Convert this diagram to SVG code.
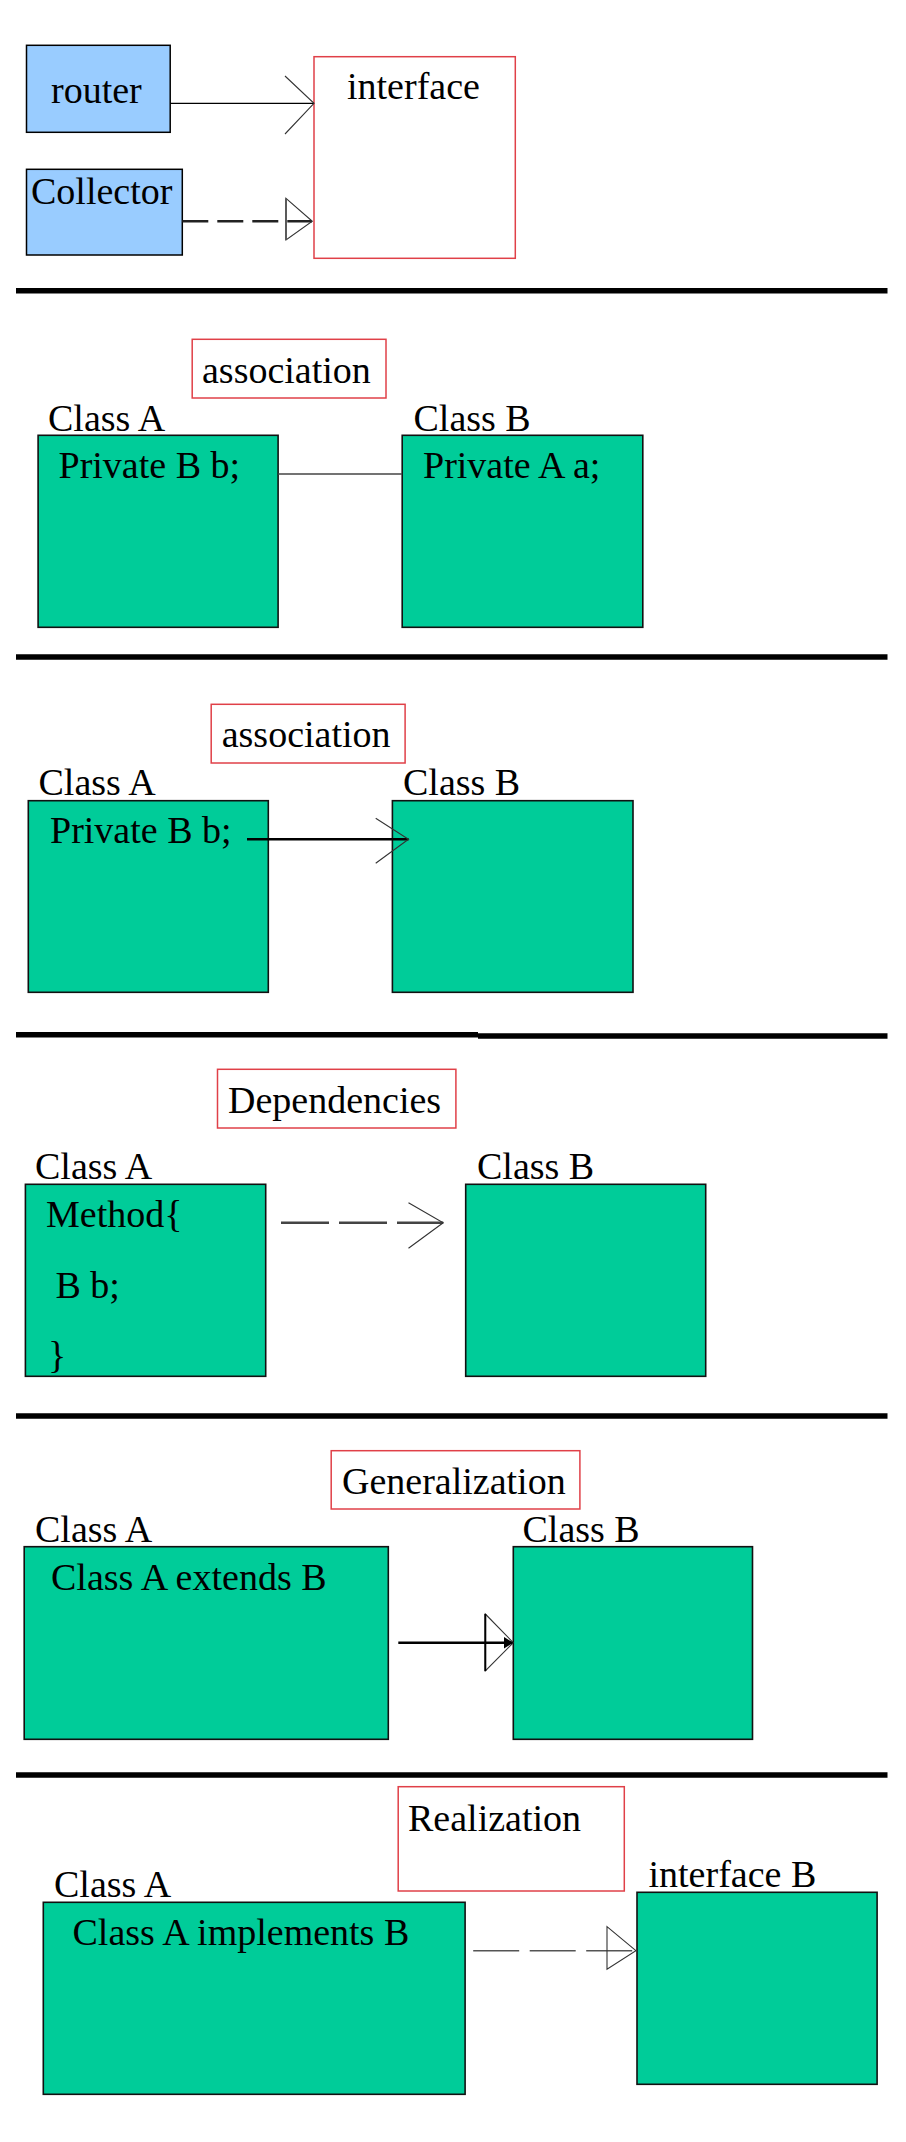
<svg xmlns="http://www.w3.org/2000/svg" width="906" height="2142" viewBox="0 0 906 2142">
<style>
text{font-family:"Liberation Serif","Times New Roman",serif;font-size:38px;fill:#000}
.blue{fill:#99CCFF;stroke:#000;stroke-width:1.5}
.green{fill:#00CC99;stroke:#111;stroke-width:1.6}
.red{fill:#fff;stroke:#E04048;stroke-width:1.5}
.sep{stroke:#000;stroke-width:5.5}
.head{fill:none;stroke:#333;stroke-width:1.1}
</style>
<rect width="906" height="2142" fill="#fff"/>
<g id="separators">
<line class="sep" x1="16" y1="290.7" x2="887.5" y2="290.7"/>
<line class="sep" x1="16" y1="657" x2="887.5" y2="657"/>
<line class="sep" x1="16" y1="1034.8" x2="478" y2="1034.8"/>
<line class="sep" x1="478" y1="1036" x2="887.5" y2="1036"/>
<line class="sep" x1="16" y1="1416" x2="887.5" y2="1416"/>
<line class="sep" x1="16" y1="1775" x2="887.5" y2="1775"/>
</g>
<g id="router"><rect class="blue" x="26.5" y="45.3" width="143.7" height="87"/><text x="51" y="103">router</text></g>
<g id="collector"><rect class="blue" x="26.5" y="169.3" width="155.8" height="85.7"/><text x="31" y="204">Collector</text></g>
<g id="interface"><rect class="red" x="314" y="56.7" width="201.3" height="201.6"/><text x="347" y="99">interface</text></g>
<g id="assoc1-label"><rect class="red" x="192.2" y="339.3" width="193.8" height="58.7"/><text x="202" y="382.7">association</text></g>
<g id="assoc1-classA"><text x="48" y="431">Class A</text><rect class="green" x="38.1" y="435.3" width="240" height="192"/><text x="58.5" y="478.3">Private B b;</text></g>
<g id="assoc1-classB"><text x="413.5" y="431">Class B</text><rect class="green" x="402.2" y="435.3" width="240.6" height="192"/><text x="423" y="478.3">Private A a;</text></g>
<g id="assoc2-label"><rect class="red" x="211.2" y="704.3" width="193.9" height="58.7"/><text x="221.7" y="746.7">association</text></g>
<g id="assoc2-classA"><text x="38.5" y="795">Class A</text><rect class="green" x="28.3" y="800.7" width="240" height="191.6"/><text x="50" y="842.7">Private B b;</text></g>
<g id="assoc2-classB"><text x="403" y="795">Class B</text><rect class="green" x="392.4" y="800.7" width="240.6" height="191.6"/></g>
<g id="dep-label"><rect class="red" x="217.5" y="1069.3" width="238.4" height="58.7"/><text x="228" y="1112.7">Dependencies</text></g>
<g id="dep-classA"><text x="35" y="1179">Class A</text><rect class="green" x="25.4" y="1184.3" width="240.3" height="192"/><text x="46" y="1227.3">Method{</text><text x="55.5" y="1298">B b;</text><text x="48" y="1368">}</text></g>
<g id="dep-classB"><text x="477" y="1179">Class B</text><rect class="green" x="465.7" y="1184.3" width="240" height="192"/></g>
<g id="gen-label"><rect class="red" x="331.2" y="1450.7" width="248.7" height="58.3"/><text x="342" y="1494">Generalization</text></g>
<g id="gen-classA"><text x="35" y="1542.3">Class A</text><rect class="green" x="24.2" y="1546.7" width="364.1" height="192.6"/><text x="51" y="1590">Class A extends B</text></g>
<g id="gen-classB"><text x="522.5" y="1542.3">Class B</text><rect class="green" x="513.3" y="1546.7" width="239.2" height="192.6"/></g>
<g id="real-label"><rect class="red" x="398.2" y="1786.7" width="226.1" height="104.3"/><text x="408" y="1830.7">Realization</text></g>
<g id="real-classA"><text x="54" y="1897.3">Class A</text><rect class="green" x="43.3" y="1902.3" width="421.8" height="192"/><text x="72.5" y="1945">Class A implements B</text></g>
<g id="real-interfaceB"><text x="648.5" y="1887.3">interface B</text><rect class="green" x="637" y="1892.3" width="240.1" height="192"/></g>
<g id="connectors">
<line x1="170.2" y1="103.3" x2="314" y2="103.3" stroke="#000" stroke-width="1.3"/>
<polyline class="head" points="285,76 314,103.3 285,134"/>
<line x1="182.3" y1="221.3" x2="312" y2="221.3" stroke="#222" stroke-width="2.5" stroke-dasharray="26 9"/>
<polygon class="head" points="286,198.3 312.3,221.3 286,240"/>
<line x1="286" y1="198.3" x2="286" y2="240" stroke="#555" stroke-width="1.8"/>
<line x1="278.1" y1="474" x2="402.2" y2="474" stroke="#444" stroke-width="1.5"/>
<line x1="247" y1="839.3" x2="408.5" y2="839.3" stroke="#000" stroke-width="2.5"/>
<polyline class="head" points="375.7,818.3 408.5,839.3 375.7,863.3"/>
<line x1="281" y1="1222.7" x2="443.2" y2="1222.7" stroke="#444" stroke-width="2.5" stroke-dasharray="48 10"/>
<polyline class="head" points="408.5,1202.7 443.2,1222.7 408.5,1248.3"/>
<line x1="398.3" y1="1642.7" x2="513.3" y2="1642.7" stroke="#000" stroke-width="2.5"/>
<polygon class="head" points="485.3,1614 513.3,1642.7 485.3,1671"/>
<line x1="485.3" y1="1614" x2="485.3" y2="1671" stroke="#000" stroke-width="2"/>
<polygon points="504,1637 513.3,1642.7 504,1648.4" fill="#000"/>
<line x1="473.2" y1="1950.7" x2="634.7" y2="1950.7" stroke="#555" stroke-width="1.5" stroke-dasharray="46 10.5"/>
<polygon class="head" points="607,1926.7 635.9,1950.7 607,1969.3"/>
</g>
</svg>
